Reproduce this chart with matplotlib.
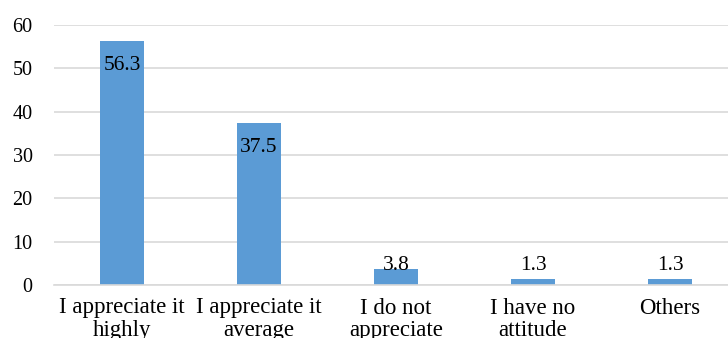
import matplotlib
matplotlib.use("Agg")
import matplotlib.pyplot as plt
import numpy as np

categories = [
    "I appreciate it\nhighly",
    "I appreciate it\naverage",
    "I do not\nappreciate",
    "I have no\nattitude",
    "Others",
]
values = [56.3, 37.5, 3.8, 1.3, 1.3]
y_ticks = [0, 10, 20, 30, 40, 50, 60]

BAR_COLOR = "#5B9BD5"
GRID_COLOR = "#D9D9D9"

plt.rcParams["font.family"] = ["Liberation Serif", "DejaVu Serif"]

fig = plt.figure(figsize=(7.28, 3.38), dpi=100)
ax = fig.add_axes([53.5 / 728, 53 / 338, 685 / 728, 260 / 338])

x = np.arange(len(categories))
ax.bar(x, values, width=0.315, color=BAR_COLOR, zorder=2)

ax.set_xlim(-0.5, len(categories) - 0.5)
ax.set_ylim(0, 60)
ax.set_yticks(y_ticks)
ax.set_xticks(x)
ax.set_xticklabels(categories, fontsize=16.5, linespacing=1.12)
ax.tick_params(axis="y", labelsize=14.5, length=0, pad=15)
ax.tick_params(axis="x", length=0, pad=9)
ax.yaxis.grid(True, color=GRID_COLOR, linewidth=1.2, zorder=0)
for side in ["top", "right", "left"]:
    ax.spines[side].set_visible(False)
ax.spines["bottom"].set_color(GRID_COLOR)
ax.spines["bottom"].set_linewidth(1.2)

# value labels: inside the bar top, or sitting near the baseline for short bars
for xi, val in zip(x, values):
    if val > 8:
        ax.annotate(f"{val}", xy=(xi, val), xytext=(0, -11), textcoords="offset points",
                    ha="center", va="top", fontsize=15.5, zorder=3)
    else:
        ax.annotate(f"{val}", xy=(xi, 0), xytext=(0, 21), textcoords="offset points",
                    ha="center", va="top", fontsize=15.5, zorder=3)

fig.savefig("out.png", dpi=100)
